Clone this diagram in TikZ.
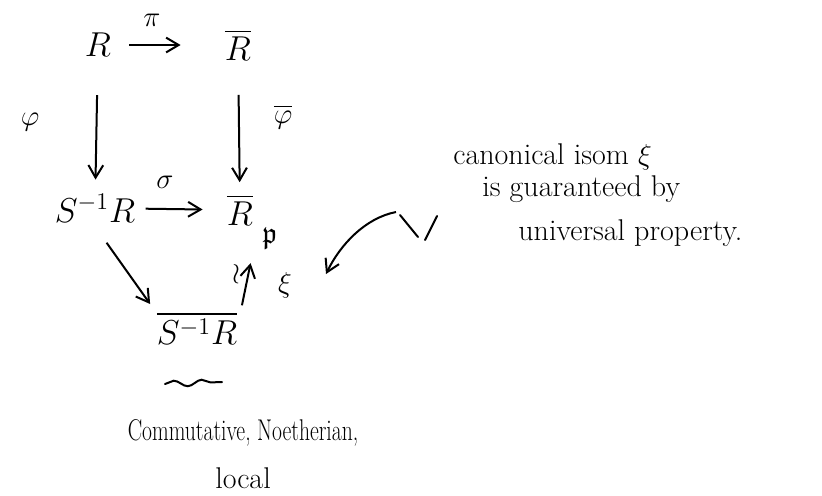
\documentclass[tikz,border=0pt]{standalone}
\usepackage{amssymb,amsmath}
\usepackage{tikz}
\usetikzlibrary{arrows.meta}
\usetikzlibrary{decorations.pathmorphing}

\begin{document}
\begin{tikzpicture}[x=0.5pt,y=-0.5pt,
  obj/.style={font=\fontsize{18}{20}\selectfont, inner sep=2pt},
  lbl/.style={font=\fontsize{15}{17}\selectfont, inner sep=1pt},
  note/.style={font=\fontsize{15}{17}\selectfont, anchor=west, inner sep=0pt},
  arr/.style={line width=1pt, -{Straight Barb[length=2.2mm, width=2.6mm]}},
  stroke/.style={line width=1pt, line cap=round}]
\useasboundingbox (0,0) rectangle (822,495);
\node[obj] (R) at (98,45) {$R$};
\node[obj] (Rb) at (238,45) {$\overline{R}$};
\node[obj] (SR) at (95,208) {$S^{-1}R$};
\node[obj] (Rp) at (240,210) {$\overline{R}$};
\node[lbl] (p) at (270,238) {$\mathfrak{p}$};
\node[obj] (SRb) at (197,328) {$\overline{S^{-1}R}$};
\coordinate (wl) at (165,384);
\coordinate (wr) at (222,382);
\draw [arr, shorten <=7pt, shorten >=20pt] (R) -- (Rb);
\node[lbl] (pi) at (152,20) {$\pi$};
\draw [arr, shorten <=17pt, shorten >=5pt] (R) -- (SR);
\node[lbl] (phi) at (30,122) {$\varphi$};
\draw [arr, shorten <=15pt, shorten >=4pt] (Rb) -- (Rp);
\node[lbl] (phib) at (283,117) {$\overline{\varphi}$};
\draw [arr, shorten <=3pt, shorten >=10pt] (SR) -- (Rp);
\node[lbl] (sigma) at (165,182) {$\sigma$};
\draw [arr, shorten <=10pt, shorten >=2pt] (SR.south) -- (SRb.north west);
\draw [arr, shorten <=1pt, shorten >=17pt] (SRb.north east) -- (Rp.south east);
\node[lbl] (wr1) at (236,274) {$\wr$};
\node[lbl] (xi) at (285,285) {$\xi$};
\draw [stroke, decorate, decoration={snake, amplitude=1.5pt, segment length=14pt}] (wl) -- (wr);
% the pointer to xi
\coordinate (c1) at (400,215);
\coordinate (c2) at (418,237);
\coordinate (c3) at (425,240);
\coordinate (c4) at (437,216);
\draw [stroke] (c1) -- (c2);
\draw [stroke] (c3) -- (c4);
\draw [arr] (396,212) .. controls (365,218) and (340,245) .. (326,274);
\node[note] (n1) at (453,157) {canonical isom $\xi$};
\node[note] (n2) at (482,189) {is guaranteed by};
\node[note] (n3) at (518,233) {universal property.};
\node[note, anchor=center] (n4) at (243,433) {\scalebox{0.72}[1]{Commutative, Noetherian,}};
\node[note, anchor=center] (n5) at (243,478) {local};
\end{tikzpicture}
\end{document}
